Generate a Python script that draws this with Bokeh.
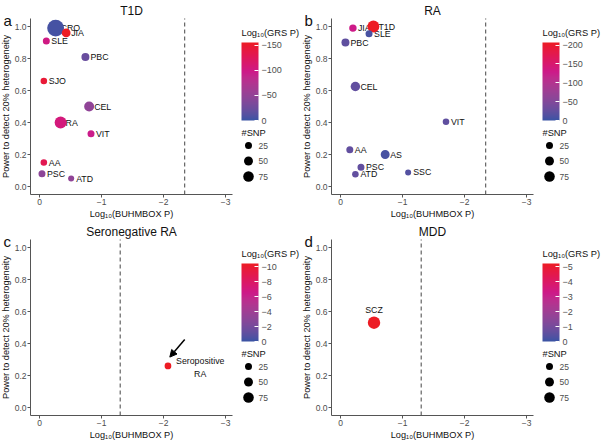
import numpy as np
from bokeh.plotting import figure
from bokeh.layouts import row, column
from bokeh.models import (Range1d, FixedTicker, CustomJSTickFormatter, PrintfTickFormatter,
                          LinearColorMapper, ColorBar, Arrow, NormalHead, LinearAxis,
                          ColumnDataSource)
from bokeh.core.properties import value
from bokeh.embed import file_html
from bokeh.resources import INLINE

FONT = "Liberation Sans"

# ---------------- data ----------------
t1d_labels = ["CRO", "JIA", "SLE", "PBC", "SJO", "CEL", "RA", "VIT", "AA", "PSC", "ATD"]
t1d_x = [-0.26, -0.43, -0.11, -0.74, -0.07, -0.80, -0.34, -0.83, -0.07, -0.04, -0.51]
t1d_y = [0.99, 0.96, 0.91, 0.81, 0.66, 0.50, 0.40, 0.33, 0.15, 0.08, 0.05]
t1d_grs = [-5, -155, -100, -22, -145, -48, -105, -95, -130, -45, -48]
t1d_snp = [215, 48, 25, 37, 20, 66, 100, 25, 20, 25, 15]
t1d_ticks = [0, 50, 100, 150]

ra_labels = ["JIA", "T1D", "SLE", "PBC", "CEL", "VIT", "AA", "AS", "PSC", "SSC", "ATD"]
ra_x = [-0.20, -0.53, -0.46, -0.08, -0.24, -1.70, -0.15, -0.72, -0.33, -1.09, -0.24]
ra_y = [0.99, 1.00, 0.955, 0.90, 0.625, 0.405, 0.23, 0.20, 0.12, 0.088, 0.077]
ra_grs = [-130, -207, -8, -22, -25, -22, -25, -8, -25, -15, -25]
ra_snp = [30, 100, 25, 37, 58, 20, 25, 50, 25, 15, 20]
ra_ticks = [0, 50, 100, 150, 200]

sero_labels = ["Seropositive RA"]
sero_x = [-2.07]
sero_y = [0.26]
sero_grs = [-10.4]
sero_snp = [22]
sero_ticks = [0, 2, 4, 6, 8, 10]

mdd_labels = ["SCZ"]
mdd_x = [-0.54]
mdd_y = [0.53]
mdd_grs = [-5.2]
mdd_snp = [110]
mdd_ticks = [0, 1, 2, 3, 4, 5]

snp_legend = [25, 50, 75]
x_ticks = [0, -1, -2, -3]
y_ticks = [0.0, 0.2, 0.4, 0.6, 0.8, 1.0]
thr_bonf = -2.34   # log10(0.05/11)
thr_nom = -1.30    # log10(0.05)

# ---------------- palette (Lab interpolation blue -> magenta -> red) ----------------
def _hex2rgb(h):
    h = h.lstrip("#")
    return np.array([int(h[i:i + 2], 16) for i in (0, 2, 4)]) / 255.0

def _rgb2lab(c):
    c = np.where(c > 0.04045, ((c + 0.055) / 1.055) ** 2.4, c / 12.92)
    M = np.array([[0.4124, 0.3576, 0.1805], [0.2126, 0.7152, 0.0722], [0.0193, 0.1192, 0.9505]])
    xyz = M @ c / np.array([0.95047, 1.0, 1.08883])
    f = np.where(xyz > 0.008856, np.cbrt(xyz), 7.787 * xyz + 16 / 116)
    return np.array([116 * f[1] - 16, 500 * (f[0] - f[1]), 200 * (f[1] - f[2])])

def _lab2hex(lab):
    L, a, b = lab
    fy = (L + 16) / 116
    fx = fy + a / 500
    fz = fy - b / 200
    f = np.array([fx, fy, fz])
    xyz = np.where(f ** 3 > 0.008856, f ** 3, (f - 16 / 116) / 7.787) * np.array([0.95047, 1.0, 1.08883])
    Mi = np.array([[3.2406, -1.5372, -0.4986], [-0.9689, 1.8758, 0.0415], [0.0557, -0.2040, 1.0570]])
    c = Mi @ xyz
    c = np.where(c > 0.0031308, 1.055 * np.clip(c, 0, None) ** (1 / 2.4) - 0.055, 12.92 * c)
    c = np.clip(np.round(c * 255), 0, 255).astype(int)
    return "#%02x%02x%02x" % tuple(c)

STOPS = [(0.0, "#3953a4"), (0.62, "#cc1a8a"), (1.0, "#ed1c24")]
def _palette(n=256):
    out = []
    for t in np.linspace(0, 1, n):
        for (t0, c0), (t1, c1) in zip(STOPS[:-1], STOPS[1:]):
            if t <= t1:
                u = (t - t0) / (t1 - t0)
                l0, l1 = _rgb2lab(_hex2rgb(c0)), _rgb2lab(_hex2rgb(c1))
                out.append(_lab2hex(l0 + (l1 - l0) * u))
                break
    return out
PALETTE = _palette()

def snp_diam(n):
    return np.sqrt(18 + 1.24 * np.asarray(n, dtype=float))

MINUS = CustomJSTickFormatter(code="return tick < 0 ? '\\u2212' + (-tick) : '' + tick;")
NEG = CustomJSTickFormatter(code="return tick == 0 ? '0' : '\\u2212' + tick;")

# ---------------- geometry ----------------
MAIN_W, LEG_W, H = 234, 67, 221
X_LO, X_HI = 0.145, -3.11          # plotted x extent (reversed axis)
Y_LO, Y_HI = -0.05, 1.05           # plotted y extent
FR_L, FR_R, FR_T, FR_B = 30, 232, 18, 194   # frame box in panel pixels
SX = (FR_R - FR_L) / (X_LO - X_HI)          # px per x unit
SY = (FR_B - FR_T) / (Y_HI - Y_LO)          # px per y unit
XR = (X_LO + FR_L / SX, X_HI - (MAIN_W - FR_R) / SX)
YR = (Y_LO - (H - FR_B) / SY, Y_HI + FR_T / SY)


def style_axis(ax):
    ax.axis_line_color = "#555555"
    ax.major_tick_line_color = "#555555"
    ax.major_tick_out = 3
    ax.major_tick_in = 0
    ax.minor_tick_line_color = None
    ax.major_label_text_font = FONT
    ax.major_label_text_font_size = "8.5px"
    ax.major_label_text_color = "#4d4d4d"
    ax.major_label_standoff = 1
    ax.axis_label_text_font = FONT
    ax.axis_label_text_font_size = "9.2px"
    ax.axis_label_text_font_style = "normal"
    ax.axis_label_text_color = "#111111"
    ax.axis_label_standoff = 1


def make_panel(letter, title, labels, xs, ys, grs, snp, ticks, thr, mode):
    p = figure(width=MAIN_W, height=H, x_range=Range1d(*XR), y_range=Range1d(*YR),
               output_backend="svg", toolbar_location=None,
               x_axis_location=None, y_axis_location=None,
               min_border_left=0, min_border_right=0, min_border_top=0, min_border_bottom=0)
    p.outline_line_color = None
    p.grid.visible = False

    xa = LinearAxis(fixed_location=Y_LO, bounds=(X_HI, X_LO), ticker=FixedTicker(ticks=x_ticks),
                    formatter=MINUS, axis_label="Log\u2081\u2080(BUHMBOX P)")
    ya = LinearAxis(fixed_location=X_LO, bounds=(Y_LO, Y_HI), ticker=FixedTicker(ticks=y_ticks),
                    formatter=PrintfTickFormatter(format="%.1f"),
                    axis_label="Power to detect 20% heterogeneity")
    style_axis(xa)
    style_axis(ya)
    p.add_layout(xa, "below")
    p.add_layout(ya, "left")

    # panel letter and title
    p.text(x=[XR[0] - 3 / SX], y=[YR[1] - 19.5 / SY], text=[letter], text_align="left",
           text_baseline="alphabetic", text_font=value(FONT), text_font_size="15px",
           text_color="#111111")
    p.text(x=[(X_LO + X_HI) / 2], y=[Y_HI + 8 / SY], text=[title], text_align="center",
           text_baseline="middle", text_font=value(FONT), text_font_size="12px",
           text_color="#111111")

    # significance threshold
    p.segment(x0=[thr], y0=[Y_LO], x1=[thr], y1=[Y_HI], line_color="#444444",
              line_dash="4 3", line_width=1)

    vmax = max(abs(g) for g in grs)
    mapper = LinearColorMapper(palette=PALETTE, low=0, high=vmax)
    src = ColumnDataSource(dict(x=xs, y=ys, label=labels, g=[abs(g) for g in grs],
                                d=list(snp_diam(snp))))

    if mode == "right":
        p.text(x="x", y="y", text="label", source=src, x_offset=5, text_align="left",
               text_baseline="middle", text_font=value(FONT), text_font_size="8.8px",
               text_color="#111111")
    elif mode == "above":
        p.text(x="x", y="y", text="label", source=src, y_offset=-13, text_align="center",
               text_baseline="middle", text_font=value(FONT), text_font_size="8.8px",
               text_color="#111111")
    p.scatter(x="x", y="y", size="d", source=src, line_color=None,
              fill_color={"field": "g", "transform": mapper})

    if mode == "arrow":
        x0, y0 = xs[0], ys[0]
        p.add_layout(Arrow(x_start=x0 - 0.27, y_start=y0 + 0.165, x_end=x0 - 0.03, y_end=y0 + 0.055,
                           line_width=1.5, line_color="black",
                           end=NormalHead(size=7, fill_color="black", line_color="black")))
        words = labels[0].split(" ")
        p.text(x=[x0 - 0.52, x0 - 0.52], y=[y0 + 0.03, y0 - 0.05], text=words,
               text_align="center", text_baseline="middle", text_font=value(FONT),
               text_font_size="8.8px", text_color="#111111")

    # legend figure (data coordinates = pixels from its top-left corner)
    lg = figure(width=LEG_W, height=H, x_range=Range1d(0, LEG_W), y_range=Range1d(H, 0),
                output_backend="svg", toolbar_location=None, x_axis_location=None,
                y_axis_location=None, min_border_left=0, min_border_top=0,
                min_border_right=0, min_border_bottom=0)
    lg.outline_line_color = None
    lg.grid.visible = False
    cb = ColorBar(color_mapper=mapper, ticker=FixedTicker(ticks=ticks), formatter=NEG,
                  width=17, height=78, location=(7, 101), margin=0, padding=0,
                  major_label_text_font=FONT, major_label_text_font_size="9px",
                  major_label_text_color="#4d4d4d", label_standoff=3,
                  major_tick_line_color="white", major_tick_in=4, major_tick_out=0,
                  bar_line_color=None, border_line_color=None, background_fill_alpha=0)
    lg.add_layout(cb, "center")
    lg.text(x=[7, 7], y=[32, 132], text=["Log\u2081\u2080(GRS P)", "#SNP"], text_align="left",
            text_baseline="middle", text_font=value(FONT), text_font_size="9.3px",
            text_color="#111111")
    leg_src = ColumnDataSource(dict(x=[14] * 3, y=[145, 160.5, 176], d=list(snp_diam(snp_legend)),
                                    t=[str(v) for v in snp_legend]))
    lg.scatter(x="x", y="y", size="d", source=leg_src, fill_color="black", line_color=None)
    lg.text(x=24, y="y", text="t", source=leg_src, text_align="left", text_baseline="middle",
            text_font=value(FONT), text_font_size="8.5px", text_color="#4d4d4d")
    return p, lg


pa, la = make_panel("a", "T1D", t1d_labels, t1d_x, t1d_y, t1d_grs, t1d_snp, t1d_ticks, thr_bonf, "right")
pb, lb = make_panel("b", "RA", ra_labels, ra_x, ra_y, ra_grs, ra_snp, ra_ticks, thr_bonf, "right")
pc, lc = make_panel("c", "Seronegative RA", sero_labels, sero_x, sero_y, sero_grs, sero_snp, sero_ticks, thr_nom, "arrow")
pd, ld = make_panel("d", "MDD", mdd_labels, mdd_x, mdd_y, mdd_grs, mdd_snp, mdd_ticks, thr_nom, "above")

layout = column(row(pa, la, pb, lb), row(pc, lc, pd, ld))
open("out.html", "w").write(file_html(layout, INLINE))
